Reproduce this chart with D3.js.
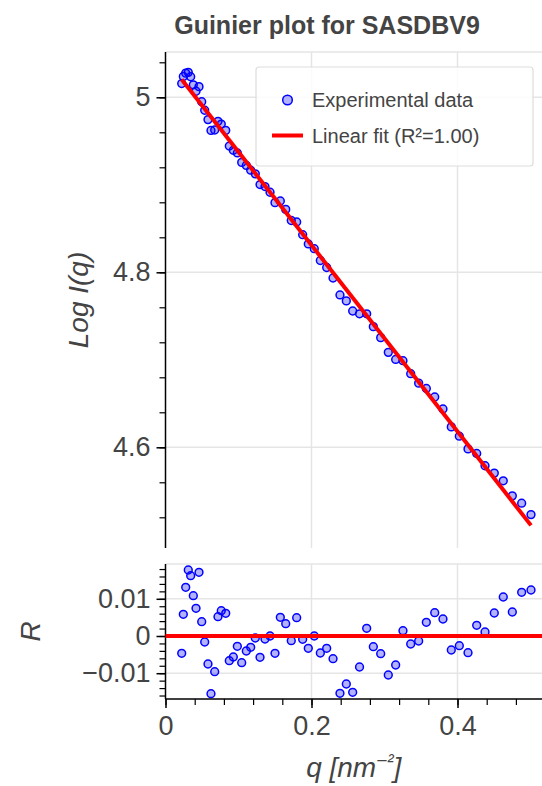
<!DOCTYPE html>
<html>
<head>
<meta charset="utf-8">
<script src="https://cdn.jsdelivr.net/npm/d3@7/dist/d3.min.js"></script>
<style>
  html, body { margin: 0; padding: 0; background: #fff; }
  svg { display: block; font-family: "Liberation Sans", Arial, sans-serif; }
</style>
</head>
<body>
<svg id="chart" width="542" height="786"></svg>
<script>
// ---- data ----
const qValues = [0.0222, 0.0244, 0.0277, 0.0312, 0.0345, 0.0381, 0.0418, 0.0459, 0.0496, 0.0537,
  0.0582, 0.0623, 0.0674, 0.0719, 0.0764, 0.0825, 0.0874, 0.0929, 0.0984, 0.1044,
  0.1107, 0.1167, 0.1230, 0.1295, 0.1363, 0.1432, 0.1500, 0.1573, 0.1647, 0.1723,
  0.1797, 0.1879, 0.1956, 0.2038, 0.2121, 0.2208, 0.2295, 0.2390, 0.2477, 0.2564,
  0.2658, 0.2756, 0.2847, 0.2948, 0.3052, 0.3153, 0.3253, 0.3359, 0.3468, 0.3573,
  0.3688, 0.3801, 0.3915, 0.4025, 0.4144, 0.4263, 0.4377, 0.4504, 0.4627, 0.4751,
  0.4879, 0.5007];
const logIValues = [5.0157, 5.0238, 5.0276, 5.0285, 5.0235, 5.0143, 5.0069, 5.0122, 4.9950, 4.9852,
  4.9745, 4.9621, 4.9626, 4.9726, 4.9694, 4.9622, 4.9443, 4.9394, 4.9364, 4.9256,
  4.9221, 4.9167, 4.9125, 4.9003, 4.8980, 4.8915, 4.8796, 4.8815, 4.8719, 4.8592,
  4.8575, 4.8430, 4.8324, 4.8270, 4.8135, 4.8055, 4.7935, 4.7741, 4.7673, 4.7558,
  4.7526, 4.7526, 4.7379, 4.7253, 4.7085, 4.7004, 4.6990, 4.6841, 4.6733, 4.6672,
  4.6575, 4.6438, 4.6233, 4.6127, 4.5982, 4.5929, 4.5789, 4.5705, 4.5617, 4.5445,
  4.5361, 4.5231];
const residualValues = [-0.00465, 0.00583, 0.01309, 0.01774, 0.01621, 0.01083, 0.00745, 0.01712, 0.00384, -0.00161,
  -0.00753, -0.01551, -0.0096, 0.00519, 0.0068, 0.0061, -0.00664, -0.00565, -0.00277, -0.00718,
  -0.00403, -0.00304, -0.00054, -0.00573, -0.00081, 0.0, -0.00465, 0.00503, 0.00331, -0.00126,
  0.00492, -0.00089, -0.00331, 0.0, -0.00457, -0.00331, -0.0061, -0.0154, -0.0129, -0.01513,
  -0.00833, 0.00207, -0.00288, -0.00476, -0.01048, -0.0078, 0.00142, -0.00215, -0.00134, 0.00368,
  0.00626, 0.00457, -0.00376, -0.00261, -0.00449, 0.00288, 0.00108, 0.00618, 0.01048, 0.00645,
  0.01175, 0.01237];
const fitSlope = -1.065;
const fitIntercept = 5.044;
const xMajorTicks = [0, 0.2, 0.4];
const yMajorTicks = [4.6, 4.8, 5.0];
const rMajorTicks = [-0.01, 0, 0.01];
const xTickLabels = ["0", "0.2", "0.4"];
const yTickLabels = ["4.6", "4.8", "5"];
const rTickLabels = ["\u22120.01", "0", "0.01"];
const titleText = "Guinier plot for SASDBV9";
const legendLabels = ["Experimental data", "Linear fit (R\u00B2=1.00)"];

// ---- layout ----
const svg = d3.select("#chart");
const L = 165.5, R = 542;
const top1 = 52, bot1 = 548;
const top2 = 564, bot2 = 699;
const textColor = "#444";
const gridColor = "#e5e5e5";
const tickFont = 27;

const x = d3.scaleLinear().domain([0, (R - L) / 730]).range([L, R]);
const y = d3.scaleLinear().domain([5.0 + (97.3 - top1) / 875, 4.6 - (bot1 - 447.3) / 875]).range([top1, bot1]);
const yr = d3.scaleLinear().domain([(636 - top2) / 3720, -(bot2 - 636) / 3720]).range([top2, bot2]);

function minorTicks(lo, hi, step) {
  const out = [];
  const n0 = Math.ceil(lo / step - 1e-9), n1 = Math.floor(hi / step + 1e-9);
  for (let i = n0; i <= n1; i++) out.push(+(i * step).toFixed(6));
  return out;
}

function panel(yScale, top, bot, majors, labels, minorStep) {
  const g = svg.append("g");
  g.selectAll(".hg").data(majors).enter().append("line")
    .attr("x1", L).attr("x2", R).attr("y1", d => yScale(d)).attr("y2", d => yScale(d))
    .attr("stroke", gridColor).attr("stroke-width", 1.5);
  g.selectAll(".vg").data(xMajorTicks.filter(d => d > 0)).enter().append("line")
    .attr("x1", d => x(d)).attr("x2", d => x(d)).attr("y1", top).attr("y2", bot)
    .attr("stroke", gridColor).attr("stroke-width", 1.5);
  g.append("line").attr("x1", L).attr("x2", R).attr("y1", top).attr("y2", top)
    .attr("stroke", gridColor).attr("stroke-width", 1.5);
  const dom = yScale.domain();
  const ax = d3.axisLeft(yScale).tickValues(majors).tickFormat((d, i) => labels[i]).tickSize(9).tickPadding(6);
  const axg = g.append("g").attr("transform", `translate(${L},0)`).call(ax);
  axg.select(".domain").remove();
  axg.selectAll(".tick line").attr("stroke", "#000").attr("stroke-width", 1.5);
  axg.selectAll(".tick text").attr("fill", textColor).style("font-size", tickFont + "px");
  const minor = minorTicks(Math.min(dom[0], dom[1]), Math.max(dom[0], dom[1]), minorStep);
  const axm = d3.axisLeft(yScale).tickValues(minor).tickFormat("").tickSize(6);
  const axmg = g.append("g").attr("transform", `translate(${L},0)`).call(axm);
  axmg.select(".domain").remove();
  axmg.selectAll(".tick line").attr("stroke", "#000").attr("stroke-width", 1.2);
  g.append("line").attr("x1", L).attr("x2", L).attr("y1", top).attr("y2", bot)
    .attr("stroke", "#000").attr("stroke-width", 1.5);
  return g;
}

const g1 = panel(y, top1, bot1, yMajorTicks, yTickLabels, 0.04);
const g2 = panel(yr, top2, bot2, rMajorTicks, rTickLabels, 0.002);

const pts = qValues.map((q, i) => ({ q, v: logIValues[i], r: residualValues[i] }));
const qExt = d3.extent(qValues);

g1.selectAll(".pt").data(pts).enter().append("circle")
  .attr("cx", d => x(d.q)).attr("cy", d => y(d.v)).attr("r", 3.9)
  .attr("fill", "rgba(0,0,255,0.3)").attr("stroke", "#0000ff").attr("stroke-width", 1.5);

const fitLine = d3.line().x(d => x(d)).y(d => y(fitIntercept + fitSlope * d));
g1.append("path").datum(qExt).attr("d", fitLine)
  .attr("stroke", "#ff0000").attr("stroke-width", 4).attr("fill", "none");

g2.selectAll(".pt").data(pts).enter().append("circle")
  .attr("cx", d => x(d.q)).attr("cy", d => yr(d.r)).attr("r", 3.9)
  .attr("fill", "rgba(0,0,255,0.3)").attr("stroke", "#0000ff").attr("stroke-width", 1.5);
g2.append("line").attr("x1", L).attr("x2", R).attr("y1", yr(0)).attr("y2", yr(0))
  .attr("stroke", "#ff0000").attr("stroke-width", 4);

const xAx = d3.axisBottom(x).tickValues(xMajorTicks).tickFormat((d, i) => xTickLabels[i]).tickSize(9).tickPadding(8);
const xg = svg.append("g").attr("transform", `translate(0,${bot2})`).call(xAx);
xg.select(".domain").remove();
xg.selectAll(".tick line").attr("stroke", "#000").attr("stroke-width", 1.5);
xg.selectAll(".tick text").attr("fill", textColor).style("font-size", tickFont + "px");
const xm = d3.axisBottom(x).tickValues(minorTicks(0, x.domain()[1], 0.04)).tickFormat("").tickSize(6);
const xmg = svg.append("g").attr("transform", `translate(0,${bot2})`).call(xm);
xmg.select(".domain").remove();
xmg.selectAll(".tick line").attr("stroke", "#000").attr("stroke-width", 1.2);
svg.append("line").attr("x1", L).attr("x2", R).attr("y1", bot2).attr("y2", bot2)
  .attr("stroke", "#000").attr("stroke-width", 1.5);

svg.append("text").attr("x", 327).attr("y", 34).attr("text-anchor", "middle")
  .attr("fill", textColor).style("font-size", "25px").style("font-weight", "bold").text(titleText);
svg.append("text").attr("transform", `translate(88,${(top1 + bot1) / 2}) rotate(-90)`)
  .attr("text-anchor", "middle").attr("fill", textColor).style("font-size", "28px").style("font-style", "italic")
  .text("Log I(q)");
svg.append("text").attr("transform", `translate(40,${(top2 + bot2) / 2}) rotate(-90)`)
  .attr("text-anchor", "middle").attr("fill", textColor).style("font-size", "28px").style("font-style", "italic")
  .text("R");
const xl = svg.append("text").attr("x", (L + R) / 2).attr("y", 777).attr("text-anchor", "middle")
  .attr("fill", textColor).style("font-size", "28px").style("font-style", "italic");
xl.append("tspan").text("q [nm");
xl.append("tspan").attr("dy", -10).style("font-size", "19px").text("\u2212\u00B2");
xl.append("tspan").attr("dy", 10).text("]");

const lg = svg.append("g");
lg.append("rect").attr("x", 256).attr("y", 67).attr("width", 277).attr("height", 99).attr("rx", 3)
  .attr("fill", "rgba(255,255,255,0.85)").attr("stroke", "#dddddd").attr("stroke-width", 1.2);
lg.append("circle").attr("cx", 287.5).attr("cy", 100).attr("r", 4.8)
  .attr("fill", "rgba(0,0,255,0.3)").attr("stroke", "#0000ff").attr("stroke-width", 1.5);
lg.append("line").attr("x1", 272).attr("x2", 303).attr("y1", 135.5).attr("y2", 135.5)
  .attr("stroke", "#ff0000").attr("stroke-width", 4);
lg.selectAll(".lt").data(legendLabels).enter().append("text")
  .attr("x", 312).attr("y", (d, i) => 100 + i * 35.5).attr("dy", "0.35em")
  .attr("fill", textColor).style("font-size", "20px").text(d => d);
</script>
</body>
</html>
